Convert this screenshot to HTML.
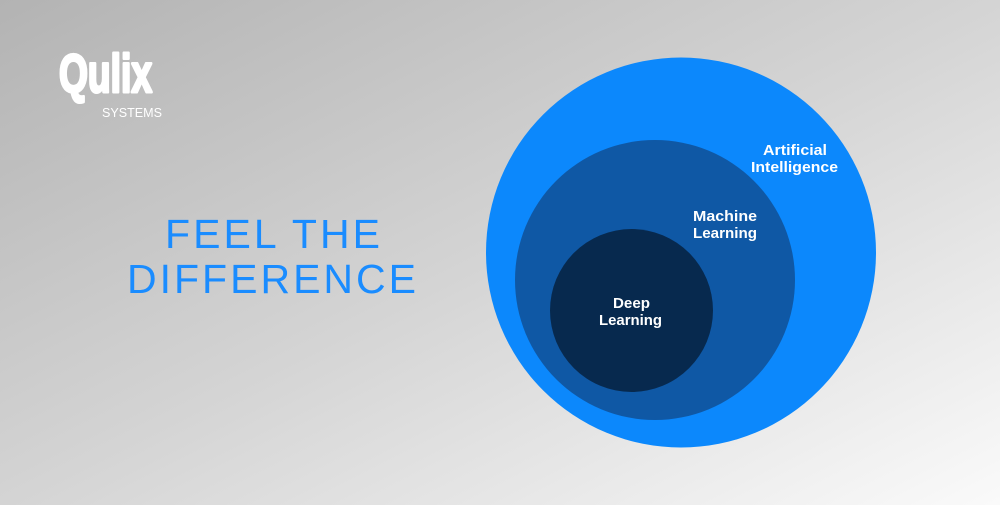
<!DOCTYPE html>
<html>
<head>
<meta charset="utf-8">
<style>
html,body{margin:0;padding:0;}
body{width:1000px;height:505px;overflow:hidden;background:linear-gradient(to bottom right,#b3b3b3 0%,#d4d4d4 50%,#fafafa 100%);}
svg{display:block;position:absolute;left:0;top:0;}
</style>
</head>
<body>
<svg width="1000" height="505" viewBox="0 0 1000 505" xmlns="http://www.w3.org/2000/svg">
  <!-- Logo -->
  <text x="59" y="92" font-family="'Liberation Sans Narrow','Liberation Sans',sans-serif" font-weight="bold" font-size="54" fill="#ffffff" stroke="#ffffff" stroke-width="3" stroke-linejoin="round" textLength="93" lengthAdjust="spacingAndGlyphs">Qulix</text>
  <text x="102" y="117" font-family="'Liberation Sans',sans-serif" font-size="12.5" fill="#ffffff" textLength="60" lengthAdjust="spacingAndGlyphs">SYSTEMS</text>

  <!-- Headline -->
  <text x="165" y="248" font-family="'Liberation Sans',sans-serif" font-size="41" fill="#1a8cff" textLength="215" lengthAdjust="spacing">FEEL THE</text>
  <text x="127" y="293" font-family="'Liberation Sans',sans-serif" font-size="41" fill="#1a8cff" textLength="289" lengthAdjust="spacing">DIFFERENCE</text>

  <!-- Circles -->
  <circle cx="681" cy="252.5" r="195" fill="#0c88fc"/>
  <circle cx="655" cy="280" r="140" fill="#0f58a5"/>
  <circle cx="631.5" cy="310.5" r="81.5" fill="#07294e"/>

  <!-- Labels -->
  <g font-family="'Liberation Sans',sans-serif" font-weight="bold" font-size="15" fill="#ffffff">
    <text x="763" y="155" textLength="64" lengthAdjust="spacingAndGlyphs">Artificial</text>
    <text x="751" y="172" textLength="87" lengthAdjust="spacingAndGlyphs">Intelligence</text>
    <text x="693" y="221" textLength="64" lengthAdjust="spacingAndGlyphs">Machine</text>
    <text x="693" y="238" textLength="64" lengthAdjust="spacingAndGlyphs">Learning</text>
    <text x="613" y="308" textLength="37" lengthAdjust="spacingAndGlyphs">Deep</text>
    <text x="599" y="325" textLength="63" lengthAdjust="spacingAndGlyphs">Learning</text>
  </g>
</svg>
</body>
</html>
